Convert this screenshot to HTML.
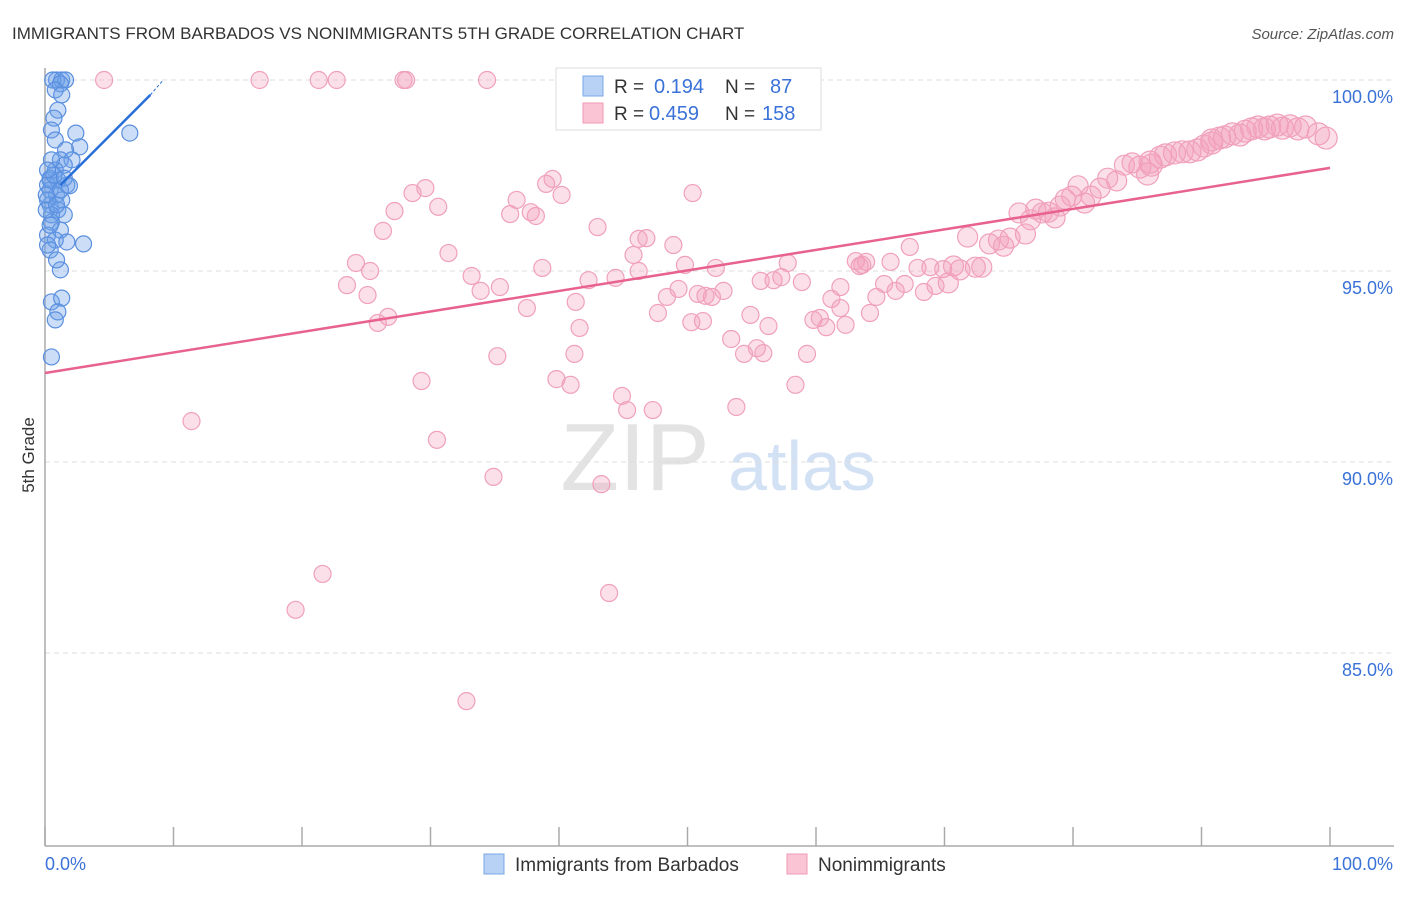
<!DOCTYPE html>
<html><head><meta charset="utf-8">
<style>
body{margin:0;background:#fff;font-family:"Liberation Sans",sans-serif;}
svg text{font-family:"Liberation Sans",sans-serif;}
</style></head>
<body>
<svg id="chart" width="1406" height="892" xmlns="http://www.w3.org/2000/svg">
<text x="12" y="39" font-size="17" fill="#333">IMMIGRANTS FROM BARBADOS VS NONIMMIGRANTS 5TH GRADE CORRELATION CHART</text>
<text x="1394" y="39" font-size="15" fill="#555" text-anchor="end" font-style="italic">Source: ZipAtlas.com</text>
<text x="34" y="455" font-size="17" fill="#333" text-anchor="middle" transform="rotate(-90 34 455)">5th Grade</text>
<g>
<text x="635" y="490" font-size="96" fill="#ddd" font-family="Liberation Serif" text-anchor="middle" opacity="0.8">ZIP</text>
<text x="802" y="490" font-size="70" fill="#c8daf2" text-anchor="middle" opacity="0.8">atlas</text>
</g>
<g id="grid"></g>
<g id="axes"></g>
<g id="pink"></g>
<g id="blue"></g>
<g id="lines"></g>
<g>
<rect x="556" y="68" width="265" height="62" fill="#fff" stroke="#ddd"/>
<rect x="583" y="76" width="20" height="20" fill="#b8d2f5" stroke="#7aa7e8"/>
<rect x="583" y="103" width="20" height="20" fill="#fac4d4" stroke="#f09ab5"/>
<text x="614" y="93" font-size="19" fill="#333">R =</text>
<text x="654" y="93" font-size="20" fill="#3a72d8">0.194</text>
<text x="725" y="93" font-size="19" fill="#333">N =</text>
<text x="770" y="93" font-size="20" fill="#3a72d8">87</text>
<text x="614" y="120" font-size="19" fill="#333">R =</text>
<text x="649" y="120" font-size="20" fill="#3a72d8">0.459</text>
<text x="725" y="120" font-size="19" fill="#333">N =</text>
<text x="762" y="120" font-size="20" fill="#3a72d8">158</text>
</g>
<g>
<rect x="484" y="854" width="20" height="20" fill="#b8d2f5" stroke="#7aa7e8"/>
<text x="515" y="871" font-size="19" fill="#333">Immigrants from Barbados</text>
<rect x="787" y="854" width="20" height="20" fill="#fac4d4" stroke="#f09ab5"/>
<text x="818" y="871" font-size="19" fill="#333">Nonimmigrants</text>
</g>
</svg>
<script>
const yTicks = [100, 95, 90, 85];
const yTickLabels = ["100.0%", "95.0%", "90.0%", "85.0%"];
const xTickVals = [0,10,20,30,40,50,60,70,80,90,100];
const xEndLabels = ["0.0%", "100.0%"];
const blueX = [0.9,1.3,1.6,0.6,1.2,0.8,1.3,1.0,0.7,0.5,0.8,2.4,2.7,1.6,1.2,2.1,1.5,0.8,0.4,1.0,1.7,0.4,0.9,1.3,0.4,1.0,1.5,0.5,1.2,0.2,0.8,1.7,3.0,0.4,1.2,0.5,1.3,1.0,0.8,0.5,6.6,0.2,0.2,0.5,0.4,0.9,0.4,0.7,1.2,0.5,1.5,1.9,0.2,0.1,0.1,0.9,0.2];
const blueY = [100,100,100,100,99.9,99.74,99.61,99.21,99.0,98.69,98.43,98.61,98.25,98.17,97.91,97.91,97.77,97.64,97.43,97.38,97.25,97.12,96.99,96.86,96.73,96.6,96.47,96.28,96.07,95.94,95.81,95.76,95.71,95.55,95.03,94.19,94.29,93.93,93.72,92.75,98.61,97.25,96.86,96.47,96.2,95.29,97.38,97.51,97.12,97.91,97.43,97.23,97.64,96.6,96.99,96.73,95.68];
const pinkX = [4.6,16.7,21.3,22.7,27.9,28.1,34.4,11.4,19.5,21.6,32.8,43.9,34.9,43.3,30.5,29.3,35.2,39.8,40.9,41.2,41.6,37.5,35.4,33.9,33.2,31.4,30.6,29.6,28.6,27.2,26.3,25.9,26.7,25.1,23.5,25.3,24.2,36.2,36.7,38.2,37.8,39.0,39.5,40.2,43.0,45.8,46.2,46.8,48.9,49.8,50.4,52.2,50.3,50.8,51.4,51.9,52.8,47.7,48.4,49.3,44.4,42.3,44.9,45.3,47.3,53.8,53.4,54.4,55.4,55.9,56.3,54.9,56.7,57.3,57.8,58.9,58.4,59.3,59.8,60.3,60.8,61.2,61.9,62.3,63.1,63.4,63.9,64.2,64.7,65.3,65.8,66.2,66.9,67.3,67.9,68.4,68.9,69.3,69.9,70.3,70.7,71.2,71.8,72.4,72.9,73.5,74.2,74.6,75.1,75.8,76.3,77.1,77.6,78.1,78.6,79.4,79.9,80.4,80.9,81.4,82.1,82.7,83.4,84.0,84.6,85.2,85.8,86.1,86.8,87.2,87.9,88.5,89.1,89.7,90.2,90.8,91.4,91.8,92.4,93.0,93.4,93.9,94.4,94.9,95.3,95.9,96.3,96.9,97.5,98.1,99.1,99.7,61.9,55.7,63.6,51.2,46.2,41.3,38.7,76.7,79.0,86.0,90.8];
const pinkY = [100,100,100,100,100,100,100,91.07,86.13,87.07,83.74,86.57,89.61,89.42,90.58,92.12,92.77,92.17,92.02,92.83,93.51,94.03,94.58,94.48,94.87,95.47,96.68,97.17,97.04,96.57,96.05,93.64,93.80,94.37,94.63,95.00,95.21,96.49,96.86,96.44,96.54,97.28,97.41,96.99,96.15,95.42,95.84,95.86,95.68,95.16,97.04,95.08,93.66,94.40,94.35,94.32,94.48,93.90,94.32,94.53,94.82,94.76,91.73,91.36,91.36,91.44,93.22,92.83,92.98,92.85,93.56,93.85,94.76,94.84,95.21,94.71,92.02,92.83,93.72,93.77,93.53,94.27,94.03,93.59,95.26,95.13,95.24,93.90,94.32,94.66,95.24,94.48,94.66,95.63,95.08,94.45,95.10,94.61,95.05,94.69,95.13,95.03,95.89,95.10,95.10,95.71,95.81,95.65,95.86,96.52,95.97,96.62,96.52,96.54,96.39,96.88,96.96,97.23,96.78,96.96,97.17,97.43,97.36,97.77,97.83,97.72,97.54,97.77,97.98,98.04,98.09,98.12,98.12,98.17,98.27,98.43,98.48,98.51,98.59,98.56,98.66,98.72,98.77,98.72,98.77,98.82,98.74,98.80,98.72,98.77,98.59,98.48,94.58,94.74,95.16,93.69,95.00,94.19,95.08,96.34,96.70,97.85,98.35];
const blueTrendX = [1.2, 8.2];
const blueTrendY = [97.25, 99.61];
const blueTrendDashX = [8.2, 9.2];
const blueTrendDashY = [99.61, 100];
const pinkTrendX = [0, 100];
const pinkTrendY = [92.33, 97.70];

const NS = "http://www.w3.org/2000/svg";
function xs(v){ return 45 + v * 12.85; }
function ys(v){ return 80 + (100 - v) * 38.2; }
function mk(tag, attrs, parent){
  const e = document.createElementNS(NS, tag);
  for (const k in attrs) e.setAttribute(k, attrs[k]);
  parent.appendChild(e);
  return e;
}
const grid = document.getElementById('grid');
yTicks.forEach((t, i) => {
  const l = mk('line', {x1:45, x2:1394, y1:ys(t), y2:ys(t), stroke:'#ddd', 'stroke-dasharray':'5,4'}, grid);
  
  
  const tx = mk('text', {x:1393, y:ys(t)+23, 'font-size':18, fill:'#3a72d8', 'text-anchor':'end'}, grid);
  tx.textContent = yTickLabels[i];
  
  
});
const axes = document.getElementById('axes');
const ya = mk('line', {x1:45, x2:45, y1:68, y2:846, stroke:'#aaa', 'stroke-width':1.5}, axes);


const xa = mk('line', {x1:45, x2:1394, y1:846, y2:846, stroke:'#aaa', 'stroke-width':1.5}, axes);


xTickVals.forEach(v => {
  const t = mk('line', {x1:xs(v), x2:xs(v), y1:827, y2:846, stroke:'#aaa', 'stroke-width':1.5}, axes);
  
  
});
const xl0 = mk('text', {x:45, y:870, 'font-size':18, fill:'#3a72d8'}, axes);
xl0.textContent = xEndLabels[0];


const xl1 = mk('text', {x:1393, y:870, 'font-size':18, fill:'#3a72d8', 'text-anchor':'end'}, axes);
xl1.textContent = xEndLabels[1];



const pg = document.getElementById('pink');
pinkX.forEach((x, i) => {
  const r = x > 85 ? 11 : (x > 70 ? 10 : 8.5);
  const c = mk('circle', {cx:xs(x), cy:ys(pinkY[i]), r:r, fill:'rgba(244,160,188,0.32)', stroke:'#f0a0bc', 'stroke-width':1.2}, pg);
  
  
});
const bg = document.getElementById('blue');
blueX.forEach((x, i) => {
  const c = mk('circle', {cx:xs(x), cy:ys(blueY[i]), r:8, fill:'rgba(110,160,232,0.35)', stroke:'#5a8fdf', 'stroke-width':1.2}, bg);
  
  
});
const lg = document.getElementById('lines');
const pl = mk('line', {x1:xs(pinkTrendX[0]), y1:ys(pinkTrendY[0]), x2:xs(pinkTrendX[1]), y2:ys(pinkTrendY[1]), stroke:'#e8628f', 'stroke-width':2.5}, lg);


const bl = mk('line', {x1:xs(blueTrendX[0]), y1:ys(blueTrendY[0]), x2:xs(blueTrendX[1]), y2:ys(blueTrendY[1]), stroke:'#2a6fd8', 'stroke-width':2.5}, lg);


const bd = mk('line', {x1:xs(blueTrendDashX[0]), y1:ys(blueTrendDashY[0]), x2:xs(blueTrendDashX[1]), y2:ys(blueTrendDashY[1]), stroke:'#2a6fd8', 'stroke-width':1, 'stroke-dasharray':'3,2'}, lg);


</script>
</body></html>
